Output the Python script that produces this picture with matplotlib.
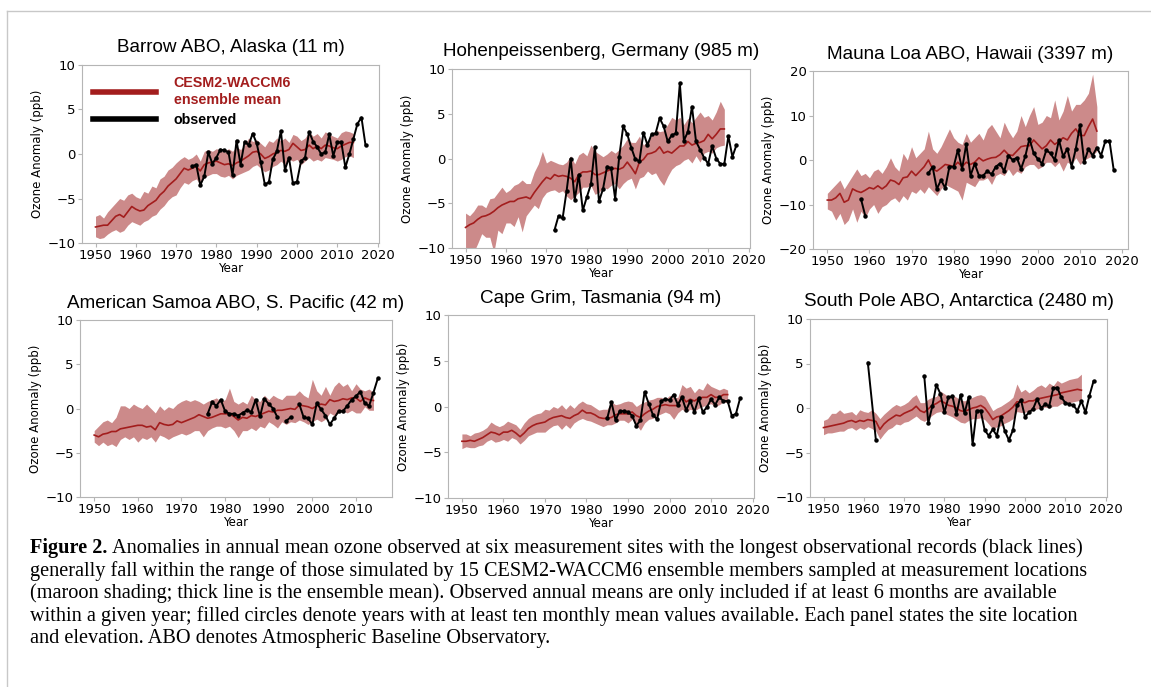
import numpy as np
import matplotlib.pyplot as plt
from matplotlib.lines import Line2D

W, H = 1151, 687

model_years = np.arange(1950, 2015)

# ---- Barrow ABO, Alaska ----
barrow_mean = [-8.2, -8.1, -8.0, -8.0, -7.5, -7.0, -6.8, -7.1, -6.5, -5.9, -6.2, -6.4, -6.3, -5.8, -5.5, -5.2,
               -4.6, -4.2, -3.6, -3.2, -2.8, -2.2, -1.6, -1.8, -1.6, -1.4, -1.9, -1.2, -1.0, -0.9, -0.8, -1.0,
               -1.2, -1.1, -1.3, -1.0, -0.8, -0.5, -0.2, 0.2, 0.3, 0.0, -0.5, -0.3, 0.0, 0.2, 0.4, 0.3, 0.5,
               1.2, 0.8, 0.4, 0.5, 1.0, 0.6, 0.9, 0.6, 1.0, 0.9, 0.7, 0.6, 0.9, 1.1, 1.3, 1.3]
barrow_upper = [-7.0, -6.8, -7.2, -6.5, -6.0, -5.5, -5.0, -5.2, -4.6, -4.4, -4.8, -5.0, -4.2, -4.4, -3.6, -3.8,
                -2.8, -2.5, -1.8, -1.5, -1.0, -0.6, -0.3, -0.6, -0.4, 0.0, -0.8, 0.3, 0.5, 0.3, 0.6, 0.4, 0.2,
                0.6, 0.3, 0.8, 0.5, 1.0, 1.8, 1.4, 1.6, 1.2, 0.8, 1.5, 1.3, 1.8, 1.5, 1.8, 1.3, 2.2, 2.0, 1.5,
                1.8, 2.5, 2.0, 2.3, 1.8, 2.5, 2.2, 2.0, 1.8, 2.4, 2.6, 2.5, 2.3]
barrow_lower = [-9.3, -9.5, -9.4, -9.0, -8.7, -8.5, -8.8, -8.6, -8.0, -7.6, -7.8, -8.0, -7.6, -7.4, -7.0, -6.8,
                -6.2, -5.8, -5.2, -4.8, -4.6, -3.8, -3.2, -3.4, -3.0, -2.8, -3.4, -2.6, -2.4, -2.2, -2.2, -2.5,
                -2.6, -2.4, -2.8, -2.4, -2.2, -2.0, -1.8, -1.4, -1.2, -1.6, -2.0, -1.8, -1.4, -1.2, -0.8, -1.2,
                -0.6, -0.8, -0.6, -1.2, -0.8, -0.4, -0.8, -0.6, -0.8, -0.4, -0.5, -0.6, -0.8, -0.6, -0.3, -0.2, -0.4]
barrow_obs_start = 1974
barrow_obs = [-1.4, -1.2, -3.5, -2.5, 0.2, -1.1, -0.4, 0.5, 0.4, 0.2, -2.4, 1.5, -1.2, 1.4, 1.0, 2.3, 1.2, -0.9,
              -3.4, -3.2, -0.6, 0.3, 2.6, -1.8, -0.4, -3.3, -3.1, -0.8, -0.4, 2.5, 1.4, 0.8, 0.0, 0.2, 2.2, -0.2,
              1.3, 1.3, -1.5, 0.0, 1.7, 3.4, 4.1, 1.0]

# ---- Hohenpeissenberg, Germany ----
hohen_mean = [-7.7, -7.4, -7.2, -6.8, -6.5, -6.4, -6.2, -5.9, -5.5, -5.2, -5.0, -4.8, -4.8, -4.5, -4.4, -4.3,
              -4.5, -3.8, -3.2, -2.6, -2.1, -2.3, -1.8, -2.0, -1.9, -2.0, -2.2, -2.6, -1.8, -1.5, -1.5, -1.4,
              -1.8, -1.8, -1.6, -1.4, -1.2, -1.1, -1.2, -1.0, -0.4, -1.0, -1.7, -0.4, -0.1, 0.5, 0.6, 0.8, 1.3,
              0.6, 0.8, 0.6, 1.0, 1.4, 1.4, 1.9, 1.5, 1.7, 1.8, 2.0, 2.7, 2.2, 2.7, 3.3, 3.3]
hohen_upper = [-6.1, -6.4, -5.9, -5.2, -5.2, -5.5, -4.5, -4.4, -3.8, -3.2, -3.8, -3.5, -3.0, -2.8, -2.4, -2.8,
               -2.8, -1.5, -0.6, 0.8, -0.5, -0.2, -0.4, -0.6, -0.7, -0.4, 0.3, -0.6, 0.4, 0.7, 0.3, 1.5, 0.8,
               0.5, 0.2, 0.5, 0.9, 0.6, 1.0, 1.5, 2.2, 1.8, 1.8, 2.5, 1.5, 2.0, 2.5, 3.2, 3.0, 3.1, 3.8, 4.6,
               4.3, 4.6, 3.8, 4.5, 4.0, 4.6, 5.2, 4.6, 4.8, 4.3, 5.2, 6.4, 5.5]
hohen_lower = [-11.0, -11.0, -10.5, -9.5, -8.4, -8.8, -8.8, -10.5, -8.0, -8.4, -7.2, -7.2, -7.6, -6.5, -8.2,
               -6.4, -5.8, -5.2, -5.6, -4.4, -3.8, -3.6, -3.5, -3.8, -3.6, -4.2, -4.6, -4.2, -3.8, -3.2, -3.2,
               -3.0, -4.0, -3.8, -3.2, -3.4, -3.0, -2.8, -3.4, -2.8, -2.4, -2.2, -3.4, -2.2, -2.0, -1.4, -1.8,
               -1.6, -2.4, -3.0, -2.0, -1.2, -0.8, -0.6, -0.2, 0.0, -0.5, 0.3, -0.4, 0.6, 0.8, 0.6, 1.2, 1.4, 1.5]
hohen_obs_start = 1972
hohen_obs = [-8.0, -6.4, -6.7, -3.6, 0.0, -4.6, -1.8, -5.8, -4.3, -2.9, 1.3, -4.8, -3.4, -0.9, -1.1, -4.5, 0.2,
             3.6, 2.7, 1.2, -0.1, -0.3, 2.9, 1.5, 2.7, 2.8, 4.5, 3.6, 1.9, 2.6, 2.8, 8.4, 2.0, 3.0, 5.8, 1.9,
             1.0, 0.1, -0.6, 1.4, 0.0, -0.6, -0.6, 2.5, 0.2, 1.5]

# ---- Mauna Loa ABO, Hawaii ----
mauna_mean = [-9.0, -9.0, -8.5, -7.5, -9.5, -9.0, -6.5, -7.0, -7.3, -6.8, -6.2, -6.5, -5.8, -6.5, -5.8, -4.5,
              -4.8, -5.5, -4.0, -3.8, -2.5, -3.5, -2.5, -1.5, 0.0, -2.0, -2.5, -1.8, -1.0, -1.2, -1.5, -0.5,
              -1.5, -0.5, -1.0, -0.5, 0.5, -0.2, 0.2, 0.5, 0.6, 1.2, 2.2, 1.2, 1.0, 2.0, 3.0, 3.2, 3.2, 4.5,
              3.5, 2.5, 3.2, 4.5, 3.5, 4.2, 5.0, 4.5, 6.0, 7.0, 5.5, 5.5, 7.5, 9.2, 6.5]
mauna_upper = [-7.5, -6.5, -5.5, -4.5, -6.5, -5.0, -3.5, -2.0, -3.5, -3.0, -4.0, -2.5, -2.0, -3.0, -1.5, 0.5,
               -1.5, -2.5, 1.5, 0.0, 3.0, 0.5, 1.5, 2.5, 6.5, 2.5, 1.5, 3.0, 5.0, 7.0, 5.0, 4.0, 3.5, 6.0, 4.0,
               5.0, 6.0, 4.5, 7.0, 8.0, 6.5, 5.0, 8.5, 6.5, 5.0, 6.5, 10.0, 7.5, 10.0, 12.0, 8.0, 8.5, 10.0,
               9.5, 13.5, 9.0, 11.0, 14.5, 11.0, 12.5, 12.5, 13.5, 15.0, 19.3, 12.0]
mauna_lower = [-11.0, -11.5, -13.5, -12.0, -14.5, -13.5, -11.0, -14.0, -11.5, -13.0, -11.0, -10.0, -12.0,
               -10.5, -10.0, -9.0, -8.5, -9.5, -8.0, -9.0, -7.0, -7.5, -6.5, -7.5, -6.0, -7.0, -8.0, -6.5, -5.5,
               -6.0, -6.5, -7.0, -9.0, -5.0, -5.5, -6.0, -4.5, -4.5, -4.0, -5.5, -3.5, -3.0, -3.5, -2.0, -3.5,
               -2.5, -3.0, -1.5, -1.0, -1.0, -2.0, -1.5, -0.5, -0.5, -1.5, -0.5, -2.5, -0.5, -1.0, 0.5, -1.0,
               0.0, 0.5, 1.0, 2.0]
mauna_obs_early_start = 1958
mauna_obs_early = [-8.8, -12.5]
mauna_obs_start = 1974
mauna_obs = [-3.0, -1.5, -6.5, -4.5, -6.3, -1.5, -1.5, 2.3, -2.0, 3.6, -3.5, -0.8, -3.5, -3.5, -2.5, -3.2, -1.5,
             -0.8, -2.5, 1.0, 0.0, 0.5, -2.0, 0.8, 4.8, 1.5, 0.2, -0.8, 2.2, 1.5, 0.0, 4.5, 0.8, 2.5, -1.5, 2.5,
             7.8, -0.5, 2.5, 1.0, 2.8, 1.0, 4.2, 4.3, -2.2]

# ---- American Samoa ABO, S. Pacific ----
samoa_mean = [-3.0, -3.2, -2.9, -2.8, -2.6, -2.6, -2.3, -2.2, -2.1, -2.0, -1.9, -1.9, -2.1, -2.0, -2.4, -1.6,
              -1.8, -1.9, -1.8, -1.4, -1.6, -1.4, -1.2, -1.0, -0.7, -0.9, -1.1, -1.0, -0.8, -0.6, -0.6, -0.6,
              -0.9, -1.3, -1.0, -1.1, -0.8, -0.9, -0.7, -0.5, -0.3, -0.4, -0.2, -0.2, -0.1, 0.0, -0.1, 0.4, 0.3,
              0.2, 0.0, 0.3, 0.5, 0.4, 1.0, 0.8, 0.9, 1.1, 1.0, 1.2, 1.2, 0.8, 1.2, 1.0, 0.9]
samoa_upper = [-2.5, -2.0, -1.5, -1.3, -1.6, -1.0, 0.3, 0.3, 0.0, 0.5, 0.2, 0.0, 0.5, 0.0, -0.5, 0.3, -0.2, 0.2,
               0.0, 0.5, 0.8, 1.0, 0.8, 1.0, 0.8, 0.5, 0.8, 1.0, 1.2, 0.8, 1.0, 2.3, 0.8, 0.5, 0.8, 0.5, 1.5,
               1.0, 0.8, 1.5, 1.0, 1.5, 1.2, 1.0, 1.5, 1.5, 1.5, 2.0, 1.5, 1.2, 3.3, 2.0, 1.5, 2.5, 1.5, 2.5,
               3.0, 2.5, 2.8, 2.0, 2.8, 2.2, 2.0, 2.2, 1.8]
samoa_lower = [-3.8, -4.2, -3.8, -4.2, -4.0, -4.3, -3.5, -3.2, -3.5, -3.2, -3.8, -3.3, -3.5, -3.2, -3.8, -3.0,
               -3.2, -3.5, -3.2, -3.0, -2.8, -3.0, -2.8, -2.5, -2.5, -3.2, -2.5, -2.2, -2.0, -2.0, -2.2, -2.0,
               -2.5, -3.3, -2.5, -2.5, -2.2, -2.5, -2.0, -2.2, -1.5, -1.8, -2.2, -1.5, -1.8, -1.5, -1.6, -1.3,
               -1.5, -1.8, -1.5, -1.2, -1.5, -1.2, -0.5, -0.8, -0.5, -0.3, -0.5, -0.2, -0.5, -0.5, 0.2, -0.2, -0.2]
samoa_obs_start = 1976
samoa_obs = [-0.6, 0.7, 0.3, 1.0, -0.3, -0.6, -0.6, -0.8, -0.5, -0.2, -0.4, 1.0, -0.9, 1.1, 0.5, 0.0, -1.0,
             np.nan, -1.4, -1.0, np.nan, 0.5, -1.0, -1.1, -1.8, 0.6, -0.1, -0.8, -1.8, -1.1, -0.3, -0.3, 0.3,
             1.0, 1.4, 1.9, 0.6, 0.3, 1.8, 3.4]

# ---- Cape Grim, Tasmania ----
grim_mean = [-3.8, -3.8, -3.7, -3.8, -3.6, -3.4, -3.1, -2.8, -2.9, -3.1, -2.8, -2.8, -2.6, -2.9, -3.3, -2.9,
             -2.4, -2.1, -1.9, -1.8, -1.7, -1.4, -1.2, -1.1, -1.0, -1.2, -1.3, -1.0, -0.8, -0.4, -0.7, -0.7,
             -0.9, -1.2, -1.3, -1.3, -1.2, -0.9, -0.8, -0.8, -0.8, -0.6, -1.0, -1.2, -0.8, -0.5, -0.3, 0.0, 0.1,
             0.2, 0.1, 0.1, 0.1, 1.1, 0.5, 0.8, 0.6, 0.9, 1.0, 1.0, 1.3, 1.0, 1.0, 1.3, 1.3]
grim_upper = [-3.0, -3.0, -3.2, -2.9, -2.8, -2.6, -2.3, -1.7, -2.0, -2.2, -2.0, -1.6, -1.8, -2.0, -2.5, -1.8,
              -1.3, -1.0, -0.8, -0.7, -0.3, -0.4, 0.0, -0.2, 0.2, -0.3, 0.2, -0.2, 0.3, 0.6, 0.3, 0.2, -0.1,
              -0.4, -0.3, -0.3, 0.5, 0.2, 0.3, 0.5, 0.6, 0.5, 0.0, 0.3, 0.5, 0.7, 0.8, 1.0, 1.0, 0.8, 1.2, 1.0,
              1.0, 2.4, 2.0, 2.2, 1.5, 2.0, 1.8, 2.6, 2.2, 2.0, 1.8, 2.0, 1.8]
grim_lower = [-4.6, -4.4, -4.5, -4.5, -4.3, -4.2, -3.8, -3.6, -3.9, -3.8, -3.6, -3.8, -3.4, -3.6, -4.1, -3.7,
              -3.2, -3.0, -2.8, -2.8, -2.8, -2.4, -2.1, -2.0, -2.5, -2.0, -2.4, -1.8, -1.5, -1.3, -1.5, -1.6,
              -1.8, -2.0, -2.2, -2.0, -2.0, -1.8, -1.5, -1.5, -1.8, -1.4, -2.0, -2.6, -1.8, -1.4, -1.3, -1.0,
              -0.8, -0.6, -0.8, -1.4, -0.7, -0.3, -0.6, -0.3, -0.5, -0.2, 0.0, 0.2, 0.3, 0.0, 0.2, 0.5, 0.4]
grim_obs_start = 1985
grim_obs = [-1.3, 0.5, -1.5, -0.5, -0.5, -0.6, -1.0, -2.1, -1.5, 1.6, 0.3, -0.9, -1.4, 0.6, 0.8, 0.7, 1.3, 0.2,
            1.0, -0.4, 0.6, -0.6, 0.9, -0.6, -0.1, 0.8, 0.2, 1.0, 0.6, 0.6, -1.0, -0.8, 0.9]

# ---- South Pole ABO, Antarctica ----
pole_mean = [-2.2, -2.1, -2.0, -1.9, -1.8, -1.7, -1.5, -1.4, -1.6, -1.4, -1.5, -1.3, -1.4, -1.5, -2.4, -1.8,
             -1.4, -1.1, -0.8, -0.9, -0.6, -0.4, -0.2, 0.2, -0.3, -0.5, -0.1, 0.3, 0.5, 0.8, 0.6, 0.3, 0.2, 0.0,
             -0.3, -0.4, -0.2, 0.0, 0.1, 0.3, 0.0, -0.6, -1.3, -1.0, -0.9, -0.6, -0.3, 0.1, 0.7, 0.7, 0.6, 0.8,
             0.8, 1.0, 1.1, 1.2, 1.3, 1.4, 1.5, 1.7, 1.8, 1.9, 2.0, 2.1, 2.0]
pole_upper = [-1.4, -1.2, -0.6, -0.6, -0.2, -0.6, -0.5, -0.4, -0.8, -0.2, -0.4, -0.5, -0.2, -0.6, -1.2, -0.7,
              -0.3, 0.1, 0.4, 0.2, 0.4, 0.7, 1.2, 1.5, 0.6, 0.6, 1.0, 1.2, 1.3, 1.9, 1.6, 1.3, 1.5, 1.2, 0.9,
              0.8, 1.0, 1.2, 1.4, 1.5, 1.3, 0.5, -0.3, 0.0, 0.2, 0.5, 0.8, 1.2, 2.7, 1.8, 2.1, 1.7, 2.0, 2.4,
              2.6, 2.3, 2.8, 2.5, 3.1, 2.8, 3.0, 3.2, 3.3, 3.4, 3.8]
pole_lower = [-3.0, -2.8, -2.8, -2.7, -2.6, -2.6, -2.3, -2.2, -2.5, -2.2, -2.4, -2.1, -2.3, -2.6, -3.5, -2.9,
              -2.4, -2.2, -1.8, -1.9, -1.6, -1.5, -1.2, -0.9, -1.3, -1.5, -1.2, -0.8, -0.5, -0.4, -0.6, -0.8,
              -1.0, -1.3, -1.6, -1.7, -1.4, -1.2, -1.2, -1.1, -1.3, -1.8, -2.4, -2.1, -2.0, -1.7, -1.5, -1.2,
              -0.4, -0.5, -0.5, -0.3, -0.3, -0.1, 0.0, 0.1, 0.0, 0.2, 0.2, 0.5, 0.6, 0.6, 0.7, 0.8, 0.9]
pole_obs_early_years = [1961, 1963]
pole_obs_early = [5.1, -3.6]
pole_obs_start = 1975
pole_obs = [3.6, -1.7, 0.2, 2.6, 1.6, -0.5, 1.2, 1.3, -0.7, 1.5, -0.6, 1.2, -4.1, -0.3, -0.3, -2.5, -3.1, -2.4,
            -3.1, -1.0, -2.6, -3.6, -2.5, 0.3, 0.9, -1.0, -0.5, -0.1, 1.0, 0.0, 0.4, 0.2, 2.2, 2.3, 1.2, 0.6,
            0.4, 0.3, -0.3, 0.8, -0.5, 1.4, 3.0]

band_color = "#cc8a8a"
mean_color = "#a31d1d"
frame_color = "#b5b5b5"

fig = plt.figure(figsize=(W / 100, H / 100), dpi=100)


def add_panel(box):
    left, right, top, bottom = box
    return fig.add_axes([left / W, 1 - bottom / H, (right - left) / W, (bottom - top) / H])


def draw_panel(ax, title, mean, lower, upper, obs_parts, ylim, yticks, xticks):
    ax.fill_between(model_years, lower, upper, color=band_color, lw=0)
    ax.plot(model_years, mean, color=mean_color, lw=1.2)
    for yrs, vals in obs_parts:
        ax.plot(yrs, vals, color="black", lw=1.4, marker="o", ms=2.2)
    ax.set_ylim(ylim)
    ax.set_yticks(yticks)
    ax.set_xticks(xticks)
    ax.tick_params(labelsize=9.5, color=frame_color, length=3, pad=1.5)
    for sp in ax.spines.values():
        sp.set_color(frame_color)
    ax.set_xlabel("Year", fontsize=8.5, labelpad=0)
    ax.set_ylabel("Ozone Anomaly (ppb)", fontsize=8.5, labelpad=3)
    ax.set_title(title, fontsize=13.6, family="Liberation Sans", pad=9)


decades = list(range(1950, 2021, 10))
yt10 = [-10, -5, 0, 5, 10]

ax1 = add_panel((82, 379, 65, 243))
draw_panel(ax1, "Barrow ABO, Alaska (11 m)", barrow_mean, barrow_lower, barrow_upper,
           [(np.arange(barrow_obs_start, barrow_obs_start + len(barrow_obs)), barrow_obs)],
           (-10, 10), yt10, decades)
handles = [Line2D([], [], color=mean_color, lw=4), Line2D([], [], color="black", lw=4)]
leg = ax1.legend(handles, ["CESM2-WACCM6\nensemble mean", "observed"], loc="upper left",
                 frameon=False, handlelength=4.4, handletextpad=1.2, labelspacing=0.45,
                 borderaxespad=0.4,
                 prop={"family": "Liberation Sans", "weight": "bold", "size": 10.3})
leg.get_texts()[0].set_color(mean_color)

ax2 = add_panel((452, 750, 69, 248))
draw_panel(ax2, "Hohenpeissenberg, Germany (985 m)", hohen_mean, hohen_lower, hohen_upper,
           [(np.arange(hohen_obs_start, hohen_obs_start + len(hohen_obs)), hohen_obs)],
           (-10, 10), yt10, decades)

ax3 = add_panel((813, 1128, 71, 249))
draw_panel(ax3, "Mauna Loa ABO, Hawaii (3397 m)", mauna_mean, mauna_lower, mauna_upper,
           [(np.arange(mauna_obs_early_start, mauna_obs_early_start + len(mauna_obs_early)), mauna_obs_early),
            (np.arange(mauna_obs_start, mauna_obs_start + len(mauna_obs)), mauna_obs)],
           (-20, 20), [-20, -10, 0, 10, 20], decades)

ax4 = add_panel((80, 392, 320, 497))
draw_panel(ax4, "American Samoa ABO, S. Pacific (42 m)", samoa_mean, samoa_lower, samoa_upper,
           [(np.arange(samoa_obs_start, samoa_obs_start + len(samoa_obs)), samoa_obs)],
           (-10, 10), yt10, decades[:-1])

ax5 = add_panel((448, 754, 315, 498))
draw_panel(ax5, "Cape Grim, Tasmania (94 m)", grim_mean, grim_lower, grim_upper,
           [(np.arange(grim_obs_start, grim_obs_start + len(grim_obs)), grim_obs)],
           (-10, 10), yt10, decades)

ax6 = add_panel((810, 1107, 319, 497))
draw_panel(ax6, "South Pole ABO, Antarctica (2480 m)", pole_mean, pole_lower, pole_upper,
           [(pole_obs_early_years, pole_obs_early),
            (np.arange(pole_obs_start, pole_obs_start + len(pole_obs)), pole_obs)],
           (-10, 10), yt10, decades)

# page frame
fig.add_artist(Line2D([7 / W, 1], [1 - 11 / H, 1 - 11 / H], color="#c8c8c8", lw=1))
fig.add_artist(Line2D([7 / W, 7 / W], [0, 1 - 11 / H], color="#c8c8c8", lw=1))

# caption
caption_lines = [
    "Anomalies in annual mean ozone observed at six measurement sites with the longest observational records (black lines)",
    "generally fall within the range of those simulated by 15 CESM2-WACCM6 ensemble members sampled at measurement locations",
    "(maroon shading; thick line is the ensemble mean). Observed annual means are only included if at least 6 months are available",
    "within a given year; filled circles denote years with at least ten monthly mean values available. Each panel states the site location",
    "and elevation. ABO denotes Atmospheric Baseline Observatory.",
]
cap_font = dict(family="Liberation Serif", fontsize=14.6, va="baseline")
x0, y0, dy = 30, 553, 22.6
bold = fig.text(x0 / W, 1 - y0 / H, "Figure 2.", weight="bold", **cap_font)
fig.canvas.draw()
bb = bold.get_window_extent()
for i, line in enumerate(caption_lines):
    x = (bb.x1 + 5) / W if i == 0 else x0 / W
    fig.text(x, 1 - (y0 + i * dy) / H, line, **cap_font)

fig.savefig("out.png", dpi=100)
